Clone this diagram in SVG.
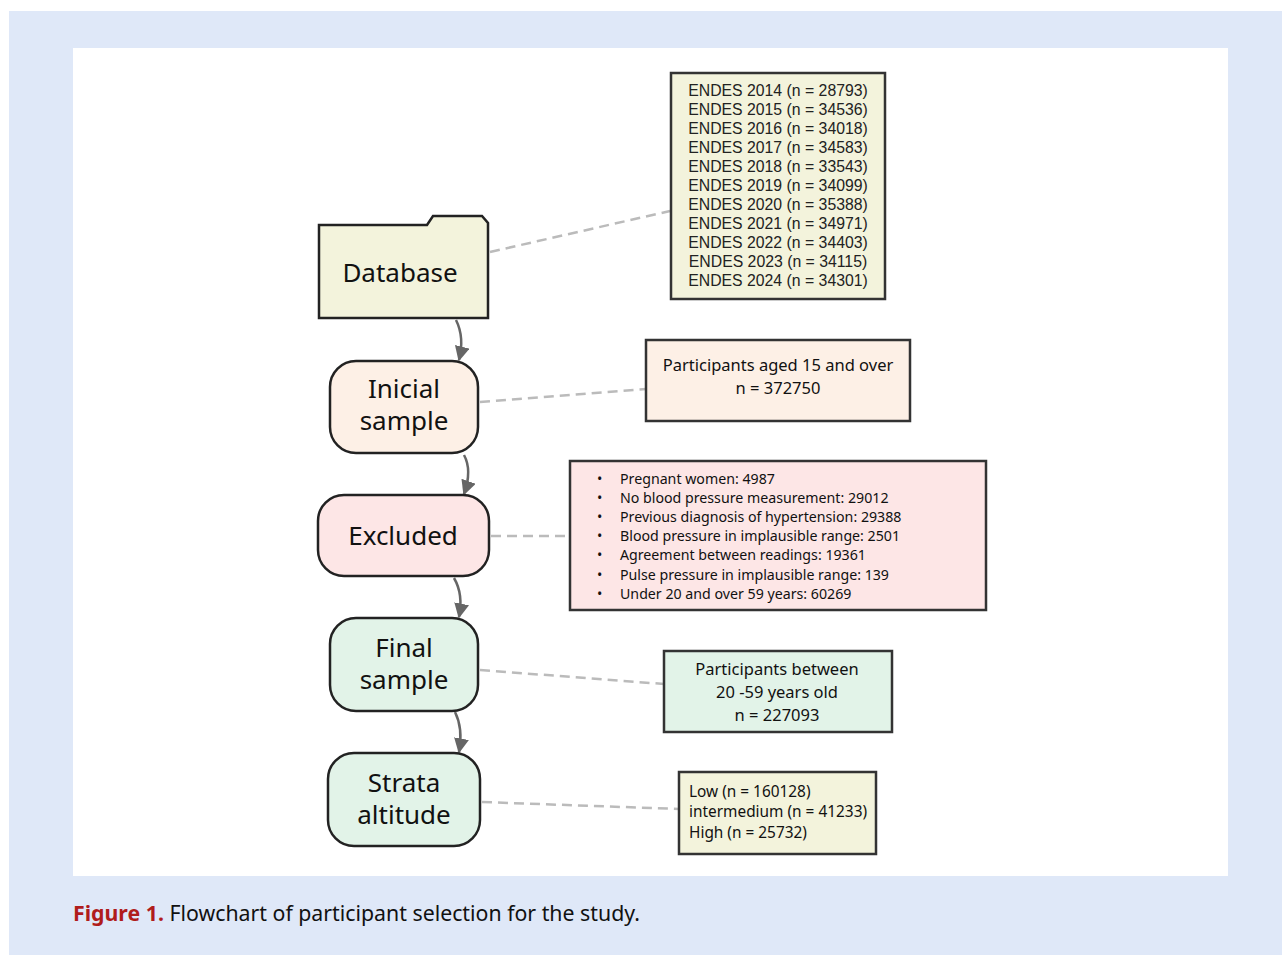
<svg xmlns="http://www.w3.org/2000/svg" width="1282" height="955" viewBox="0 0 1282 955">
<style>
.node{stroke:#222;stroke-width:2.5}
.big{font-family:"Noto Sans","Open Sans",sans-serif;font-size:26px;fill:#111;text-anchor:middle}
.sm{font-family:"Noto Sans","Open Sans",sans-serif;font-size:16.5px;fill:#111}
.ls{font-family:"Noto Sans","Open Sans",sans-serif;font-size:14.2px;fill:#111}
.ar{font-family:"Liberation Sans",Arial,sans-serif;font-size:15.8px;fill:#222;text-anchor:middle}
.box{stroke:#333;stroke-width:2.5}
.dash{fill:none;stroke:#bbb;stroke-width:2.5;stroke-dasharray:10 6}
.arrow{fill:none;stroke:#666;stroke-width:2.5;marker-end:url(#ah)}
.yel{fill:#f3f3dc}.peach{fill:#fdf0e6}.pink{fill:#fde6e6}.green{fill:#e2f3e8}
</style>
<defs>
<marker id="ah" viewBox="0 0 10 10" refX="9" refY="5" markerWidth="6" markerHeight="6" orient="auto" markerUnits="strokeWidth">
<path d="M0,0 L10,5 L0,10 z" fill="#666"/>
</marker>
</defs>
<rect x="9" y="11" width="1273" height="944" fill="#dfe8f8"/>
<rect x="73" y="48" width="1155" height="828" fill="#ffffff"/>

<g id="connectors">
<path class="dash" d="M490,252 L670,211"/>
<path class="dash" d="M480,402 L646,389"/>
<path class="dash" d="M491,536 L570,536"/>
<path class="dash" d="M480,670 L664,684"/>
<path class="dash" d="M482,802 L679,809"/>
<path class="arrow" d="M456,320 C462,332 463,344 459,360"/>
<path class="arrow" d="M464,455 C470,466 469,480 464,494"/>
<path class="arrow" d="M454,578 C461,590 462,602 459,617"/>
<path class="arrow" d="M455,712 C461,724 462,736 459,752"/>
</g>

<g id="database">
<path class="node yel" d="M319,225 L427,225 L433,216 L482,216 L488,223 L488,318 L319,318 Z"/>
<text class="big" x="400" y="282">Database</text>
</g>
<g id="inicial">
<rect class="node peach" x="330" y="361" width="148" height="92" rx="26"/>
<text class="big" x="404" y="398">Inicial</text>
<text class="big" x="404" y="430">sample</text>
</g>
<g id="excluded">
<rect class="node pink" x="318" y="495" width="171" height="81" rx="26"/>
<text class="big" x="403" y="545">Excluded</text>
</g>
<g id="final">
<rect class="node green" x="330" y="618" width="148" height="93" rx="26"/>
<text class="big" x="404" y="657">Final</text>
<text class="big" x="404" y="689">sample</text>
</g>
<g id="strata">
<rect class="node green" x="328" y="753" width="152" height="93" rx="26"/>
<text class="big" x="404" y="792">Strata</text>
<text class="big" x="404" y="824">altitude</text>
</g>

<g id="endes">
<rect class="box yel" x="671" y="73" width="214" height="226"/>
<text class="ar" x="778" y="96">ENDES 2014 (n = 28793)</text>
<text class="ar" x="778" y="115">ENDES 2015 (n = 34536)</text>
<text class="ar" x="778" y="134">ENDES 2016 (n = 34018)</text>
<text class="ar" x="778" y="153">ENDES 2017 (n = 34583)</text>
<text class="ar" x="778" y="172">ENDES 2018 (n = 33543)</text>
<text class="ar" x="778" y="191">ENDES 2019 (n = 34099)</text>
<text class="ar" x="778" y="210">ENDES 2020 (n = 35388)</text>
<text class="ar" x="778" y="229">ENDES 2021 (n = 34971)</text>
<text class="ar" x="778" y="248">ENDES 2022 (n = 34403)</text>
<text class="ar" x="778" y="267">ENDES 2023 (n = 34115)</text>
<text class="ar" x="778" y="286">ENDES 2024 (n = 34301)</text>
</g>
<g id="aged15">
<rect class="box peach" x="646" y="340" width="264" height="81"/>
<text class="sm" x="778" y="371" text-anchor="middle">Participants aged 15 and over</text>
<text class="sm" x="778" y="394" text-anchor="middle">n = 372750</text>
</g>
<g id="exclusions">
<rect class="box pink" x="570" y="461" width="416" height="149"/>
<g class="ls">
<text x="597" y="484">•</text><text x="620" y="484">Pregnant women: 4987</text>
<text x="597" y="503">•</text><text x="620" y="503">No blood pressure measurement: 29012</text>
<text x="597" y="522">•</text><text x="620" y="522">Previous diagnosis of hypertension: 29388</text>
<text x="597" y="541">•</text><text x="620" y="541">Blood pressure in implausible range: 2501</text>
<text x="597" y="560">•</text><text x="620" y="560">Agreement between readings: 19361</text>
<text x="597" y="580">•</text><text x="620" y="580">Pulse pressure in implausible range: 139</text>
<text x="597" y="599">•</text><text x="620" y="599">Under 20 and over 59 years: 60269</text>
</g>
</g>
<g id="between">
<rect class="box green" x="664" y="651" width="228" height="81"/>
<text class="sm" x="777" y="675" text-anchor="middle">Participants between</text>
<text class="sm" x="777" y="698" text-anchor="middle">20 -59 years old</text>
<text class="sm" x="777" y="721" text-anchor="middle">n = 227093</text>
</g>
<g id="altitude">
<rect class="box yel" x="679" y="772" width="197" height="82"/>
<g style="font-size:15.4px">
<text class="sm" x="689" y="797" style="font-size:15.4px">Low (n = 160128)</text>
<text class="sm" x="689" y="817" style="font-size:15.4px">intermedium (n = 41233)</text>
<text class="sm" x="689" y="838" style="font-size:15.4px">High (n = 25732)</text>
</g>
</g>

<text x="73" y="921" font-family="'Noto Sans','Open Sans',sans-serif" font-size="21.3" fill="#111"><tspan font-weight="bold" fill="#b01c1c">Figure 1.</tspan> Flowchart of participant selection for the study.</text>
</svg>
